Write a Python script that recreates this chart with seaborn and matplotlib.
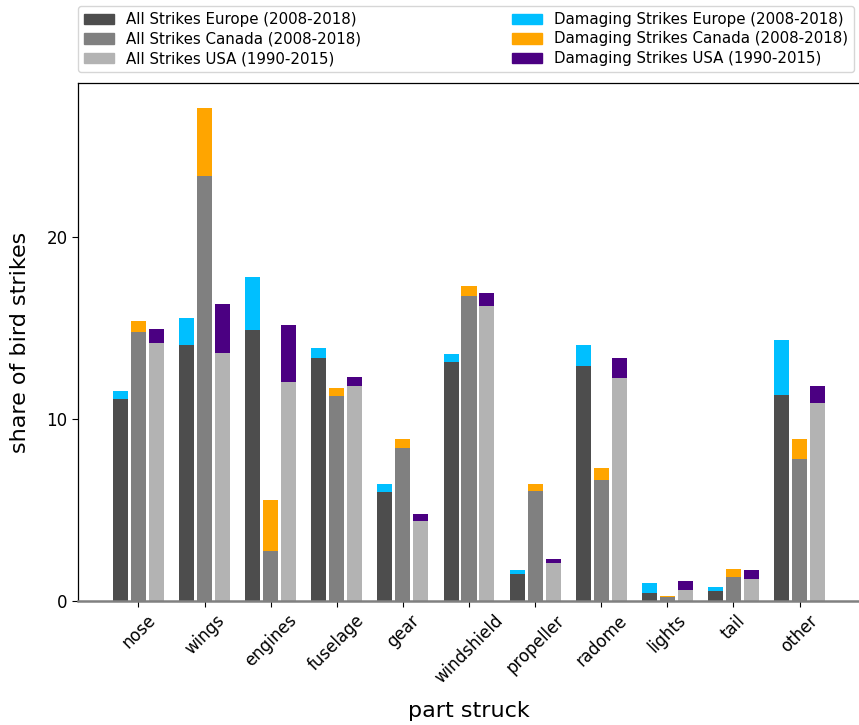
import numpy as np
import pandas as pd
import matplotlib
matplotlib.use("Agg")
import matplotlib.pyplot as plt
from matplotlib.patches import Patch
import seaborn as sns

# Share of bird strikes (%) by aircraft part struck
parts = ["nose", "wings", "engines", "fuselage", "gear", "windshield",
         "propeller", "radome", "lights", "tail", "other"]
regions = ["Europe", "Canada", "USA"]

all_europe = [11.10, 14.07, 14.89, 13.35, 5.99, 13.13, 1.48, 12.91, 0.44, 0.55, 11.32]
all_canada = [14.78, 23.35, 2.75, 11.26, 8.41, 16.76, 6.04, 6.65, 0.22, 1.32, 7.80]
all_usa = [14.18, 13.63, 12.03, 11.81, 4.40, 16.21, 2.09, 12.25, 0.60, 1.21, 10.88]

dmg_europe = [0.44, 1.48, 2.91, 0.55, 0.44, 0.44, 0.22, 1.16, 0.55, 0.22, 3.02]
dmg_canada = [0.60, 3.74, 2.80, 0.44, 0.49, 0.55, 0.38, 0.66, 0.07, 0.44, 1.10]
dmg_usa = [0.77, 2.69, 3.13, 0.50, 0.38, 0.71, 0.22, 1.10, 0.50, 0.49, 0.93]

all_labels = ["All Strikes Europe (2008-2018)", "All Strikes Canada (2008-2018)",
              "All Strikes USA (1990-2015)"]
dmg_labels = ["Damaging Strikes Europe (2008-2018)", "Damaging Strikes Canada (2008-2018)",
              "Damaging Strikes USA (1990-2015)"]

all_colors = ["#4d4d4d", "#808080", "#b3b3b3"]
dmg_colors = ["#00bfff", "#ffa500", "#4b0082"]

frames = []
for reg, a, d in zip(regions, [all_europe, all_canada, all_usa],
                     [dmg_europe, dmg_canada, dmg_usa]):
    frames.append(pd.DataFrame({"part": parts, "region": reg,
                                "all": a, "damaging": d}))
df = pd.concat(frames, ignore_index=True)
df["total"] = df["all"] + df["damaging"]

sns.set_style("ticks")
plt.rcParams["font.family"] = ["DejaVu Sans"]
plt.rcParams["text.color"] = "black"
plt.rcParams["axes.labelcolor"] = "black"

fig = plt.figure(figsize=(8.59, 7.25), dpi=100)
ax = fig.add_axes([78 / 859, 124 / 725, (860 - 78) / 859, (601 - 83) / 725])

bar_kw = dict(x="part", hue="region", order=parts, hue_order=regions,
              width=0.816, gap=0.165, errorbar=None, legend=False,
              saturation=1, linewidth=0, ax=ax)
# damaging strikes stacked on top: draw the full height first, then the base
sns.barplot(data=df, y="total", palette=dmg_colors, **bar_kw)
sns.barplot(data=df, y="all", palette=all_colors, **bar_kw)

ax.set_xlim(-0.915, 10.915)
ax.set_ylim(0, 28.46)
ax.set_yticks([0, 10, 20])
ax.tick_params(axis="both", labelsize=12, colors="black", length=4)
plt.setp(ax.get_xticklabels(), rotation=45, ha="center")
ax.set_xlabel("part struck", fontsize=16, labelpad=10)
ax.set_ylabel("share of bird strikes", fontsize=16, labelpad=12)

for side in ["left", "top", "right"]:
    ax.spines[side].set_color("black")
    ax.spines[side].set_linewidth(0.9)
ax.spines["bottom"].set_color("#808080")
ax.spines["bottom"].set_linewidth(1.8)

handles = [Patch(color=c, label=l) for c, l in zip(all_colors, all_labels)]
handles += [Patch(color=c, label=l) for c, l in zip(dmg_colors, dmg_labels)]
fig.legend(handles=handles, loc="lower left", ncol=2, mode="expand",
           bbox_to_anchor=(78 / 859, 653 / 725, 776 / 859, 0.09),
           borderaxespad=0, fontsize=10.8, labelspacing=0.3,
           frameon=True, edgecolor="#cccccc", fancybox=True)

fig.savefig("out.png", dpi=100)
